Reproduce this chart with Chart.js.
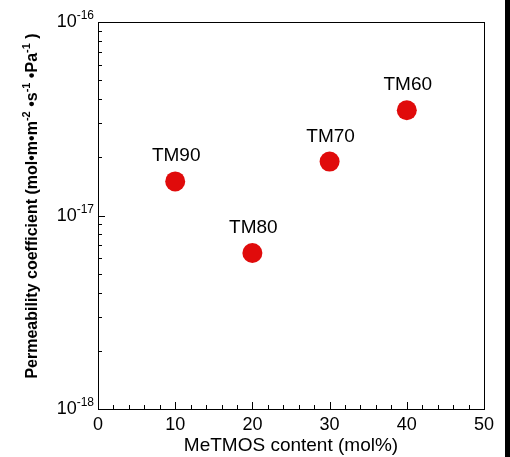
<!DOCTYPE html>
<html lang="en">
<head>
<meta charset="UTF-8">
<title>Permeability coefficient vs MeTMOS content</title>
<style>
    body {
        margin: 0;
        background: #000; /* dark strip on the right edge */
        width: 510px;
        height: 457px;
        overflow: hidden;
    }
    canvas {
        display: block;
        background: #fff;
    }
</style>
</head>
<body>
<canvas id="chart" width="505" height="457"></canvas>

<script src="https://cdn.jsdelivr.net/npm/chart.js"></script>
<script>
    // values
    const sampleNames = ['TM90', 'TM80', 'TM70', 'TM60'];
    const metmosContent = [10, 20, 30, 40];                 // mol%
    const permeability = [1.5e-17, 6.4e-18, 1.9e-17, 3.5e-17];
    const xTickValues = [0, 10, 20, 30, 40, 50];
    const yTickExponents = [-16, -17, -18];

    const FONT = '"Liberation Sans", Arial, Helvetica, sans-serif';

    // draw a line of text made of normal and superscript pieces
    function drawRuns(ctx, runs, x, y, size, weight) {
        runs.forEach(r => {
            const fs = r.sup ? Math.round(size * 0.68) : size;
            ctx.font = weight + ' ' + fs + 'px ' + FONT;
            ctx.fillText(r.t, x, r.sup ? y - size * 0.42 : y);
            x += ctx.measureText(r.t).width;
        });
    }
    function runsWidth(ctx, runs, size, weight) {
        let w = 0;
        runs.forEach(r => {
            const fs = r.sup ? Math.round(size * 0.68) : size;
            ctx.font = weight + ' ' + fs + 'px ' + FONT;
            w += ctx.measureText(r.t).width;
        });
        return w;
    }

    // frame, inward ticks, tick labels, axis titles and point labels
    const decorate = {
        id: 'decorate',
        afterDatasetsDraw(chart) {
            const ctx = chart.ctx;
            const a = chart.chartArea;
            const xs = chart.scales.x;
            const ys = chart.scales.y;
            ctx.save();
            ctx.strokeStyle = '#000';
            ctx.fillStyle = '#000';
            ctx.lineWidth = 1;
            ctx.strokeRect(Math.round(a.left) + 0.5, Math.round(a.top) + 0.5,
                Math.round(a.right - a.left), Math.round(a.bottom - a.top));

            ctx.beginPath();
            // x ticks: major every 10, minor every 2
            for (let v = 0; v <= 50; v += 2) {
                const px = Math.round(xs.getPixelForValue(v)) + 0.5;
                const len = v % 10 === 0 ? 7 : 4;
                ctx.moveTo(px, a.bottom);
                ctx.lineTo(px, a.bottom - len);
            }
            // y ticks: decades major, 2..9 minor
            for (let e = -18; e < -16; e++) {
                for (let m = 1; m <= 9; m++) {
                    const py = Math.round(ys.getPixelForValue(m * Math.pow(10, e))) + 0.5;
                    const len = m === 1 ? 7 : 4;
                    ctx.moveTo(a.left, py);
                    ctx.lineTo(a.left + len, py);
                }
            }
            ctx.stroke();

            // x tick labels
            ctx.font = '18px ' + FONT;
            ctx.textAlign = 'center';
            ctx.textBaseline = 'alphabetic';
            xTickValues.forEach(v => {
                ctx.fillText(String(v), xs.getPixelForValue(v), a.bottom + 21);
            });

            // y tick labels 10^n
            ctx.textAlign = 'left';
            yTickExponents.forEach(e => {
                const runs = [{ t: '10' }, { t: String(e), sup: true }];
                const w = runsWidth(ctx, runs, 18, 'normal');
                const py = ys.getPixelForValue(Math.pow(10, e));
                drawRuns(ctx, runs, a.left - 4 - w, py + 5, 18, 'normal');
            });

            // x title
            ctx.font = '19px ' + FONT;
            ctx.textAlign = 'center';
            ctx.fillText('MeTMOS content (mol%)', (a.left + a.right) / 2, 451);

            // y title, rotated
            const yTitle = [
                { t: 'Permeability coefficient (mol\u2022m\u2022m' }, { t: '-2', sup: true },
                { t: ' \u2022s' }, { t: '-1', sup: true },
                { t: ' \u2022Pa' }, { t: '-1', sup: true }, { t: ' )' }
            ];
            ctx.textAlign = 'left';
            const tw = runsWidth(ctx, yTitle, 16, 'bold');
            ctx.translate(37, 206);
            ctx.rotate(-Math.PI / 2);
            drawRuns(ctx, yTitle, -tw / 2, 0, 16, 'bold');
            ctx.restore();

            // sample labels above the points
            ctx.save();
            ctx.font = '19px ' + FONT;
            ctx.fillStyle = '#000';
            ctx.textAlign = 'center';
            const meta = chart.getDatasetMeta(0);
            meta.data.forEach((pt, i) => {
                ctx.fillText(sampleNames[i], pt.x + 1, pt.y - 20);
            });
            ctx.restore();
        }
    };

    const ctx = document.getElementById('chart').getContext('2d');
    new Chart(ctx, {
        type: 'scatter',
        data: {
            datasets: [{
                label: 'Permeability',
                data: metmosContent.map((x, i) => ({ x: x, y: permeability[i] })),
                backgroundColor: '#e00b0b',
                borderColor: '#e00b0b',
                pointRadius: 10,
                borderWidth: 0
            }]
        },
        options: {
            responsive: false,
            animation: false,
            devicePixelRatio: 1,
            layout: {
                padding: { left: 98, top: 22, right: 21, bottom: 48 }
            },
            plugins: {
                legend: { display: false },
                tooltip: { enabled: false }
            },
            scales: {
                x: {
                    type: 'linear',
                    display: false,
                    min: 0,
                    max: 50
                },
                y: {
                    type: 'logarithmic',
                    display: false,
                    min: 1e-18,
                    max: 1e-16
                }
            }
        },
        plugins: [decorate]
    });
</script>
</body>
</html>
